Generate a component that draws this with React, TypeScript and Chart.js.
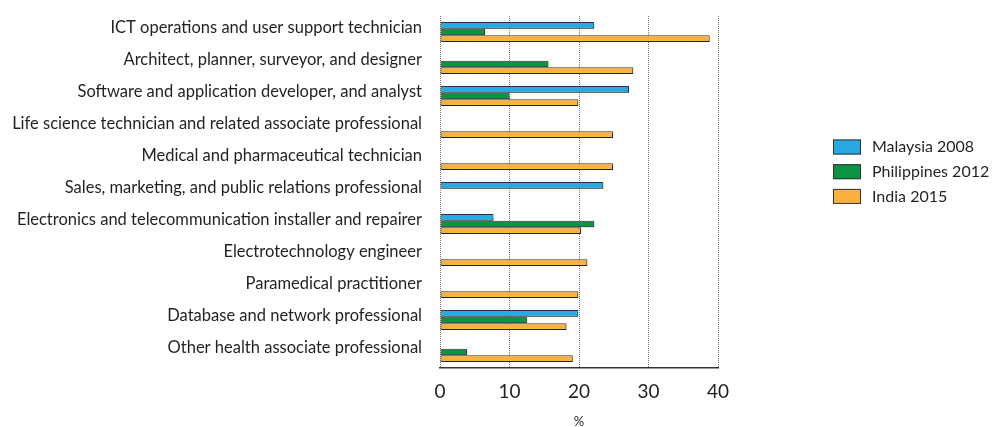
import React, { useEffect, useRef } from "react";
import { Chart, registerables } from "chart.js";

Chart.register(...registerables);

const categories = [
  "ICT operations and user support technician",
  "Architect, planner, surveyor, and designer",
  "Software and application developer, and analyst",
  "Life science technician and related associate professional",
  "Medical and pharmaceutical technician",
  "Sales, marketing, and public relations professional",
  "Electronics and telecommunication installer and repairer",
  "Electrotechnology engineer",
  "Paramedical practitioner",
  "Database and network professional",
  "Other health associate professional",
];

const malaysia2008 = [22.2, null, 27.2, null, null, 23.5, 7.7, null, null, 19.9, null];
const philippines2012 = [6.5, 15.6, 10.0, null, null, null, 22.2, null, null, 12.5, 3.9];
const india2015 = [38.8, 27.8, 19.9, 24.9, 24.9, null, 20.3, 21.2, 19.9, 18.2, 19.1];

const seriesLabels = ["Malaysia 2008", "Philippines 2012", "India 2015"];
const seriesColors = ["#27aae1", "#0b9444", "#fbb040"];

const xTicks = [0, 10, 20, 30, 40];

const FONT = "Lato, 'Open Sans', sans-serif";
const TEXT = "#231f20";

const shadowPlugin = {
  id: "barShadow",
  beforeDatasetsDraw(chart: any) {
    const ctx = chart.ctx;
    ctx.save();
    ctx.shadowColor = "rgba(0,0,0,0.28)";
    ctx.shadowOffsetX = 1;
    ctx.shadowOffsetY = 1.5;
    ctx.shadowBlur = 1;
  },
  afterDatasetsDraw(chart: any) {
    chart.ctx.restore();
  },
};

const legendPlugin = {
  id: "sideLegend",
  afterDraw(chart: any) {
    const ctx = chart.ctx;
    const area = chart.chartArea;
    const x0 = area.right + 115;
    const y0 = 147;
    const rowH = 24.7;
    ctx.save();
    ctx.font = `16px ${FONT}`;
    ctx.textBaseline = "middle";
    ctx.textAlign = "left";
    chart.data.datasets.forEach((ds: any, i: number) => {
      const cy = y0 + i * rowH;
      ctx.fillStyle = ds.backgroundColor;
      ctx.fillRect(x0, cy - 7.5, 28, 15);
      ctx.strokeStyle = "#333";
      ctx.lineWidth = 1;
      ctx.strokeRect(x0 + 0.5, cy - 7, 27, 14);
      ctx.fillStyle = TEXT;
      ctx.fillText(ds.label, x0 + 39, cy);
    });
    ctx.restore();
  },
};

export default function App() {
  const ref = useRef<HTMLCanvasElement>(null);

  useEffect(() => {
    if (!ref.current) return;
    const seriesData = [malaysia2008, philippines2012, india2015];
    const chart = new Chart(ref.current, {
      type: "bar",
      data: {
        labels: categories,
        datasets: seriesData.map((d, i) => ({
          label: seriesLabels[i],
          data: d,
          backgroundColor: seriesColors[i],
          borderColor: "#333333",
          borderWidth: 1,
          borderSkipped: false,
          categoryPercentage: 0.63,
          barPercentage: 1,
        })),
      },
      options: {
        indexAxis: "y",
        animation: false,
        responsive: true,
        maintainAspectRatio: false,
        layout: { padding: { top: 16, right: 275, bottom: 0, left: 0 } },
        plugins: {
          legend: { display: false },
          tooltip: { enabled: false },
        },
        scales: {
          x: {
            min: 0,
            max: 40,
            afterBuildTicks(scale: any) {
              scale.ticks = xTicks.map((v) => ({ value: v }));
            },
            afterFit(scale: any) {
              scale.height = 59;
              scale.paddingLeft = 0;
              scale.paddingRight = 0;
            },
            grid: {
              color: "#777",
              lineWidth: 1,
              drawTicks: false,
            },
            border: { display: true, color: "#333", width: 1.5, dash: [1, 1] },
            ticks: {
              padding: 12,
              color: TEXT,
              font: { family: FONT, size: 19 },
            },
            title: {
              display: true,
              text: "%",
              color: TEXT,
              font: { family: FONT, size: 13, lineHeight: 1 },
              padding: { top: 0, bottom: -1 },
            },
          },
          y: {
            afterFit(scale: any) {
              scale.width = 440;
              scale.paddingTop = 0;
              scale.paddingBottom = 0;
            },
            grid: { display: false, drawTicks: false },
            border: { display: false },
            ticks: {
              padding: 18,
              labelOffset: -4,
              color: TEXT,
              font: { family: FONT, size: 16.5 },
            },
          },
        },
      },
      plugins: [shadowPlugin, legendPlugin],
    });
    return () => chart.destroy();
  }, []);

  return (
    <div style={{ position: "fixed", left: 0, top: 0, width: 993, height: 427, background: "#fff" }}>
      <canvas ref={ref} />
    </div>
  );
}
